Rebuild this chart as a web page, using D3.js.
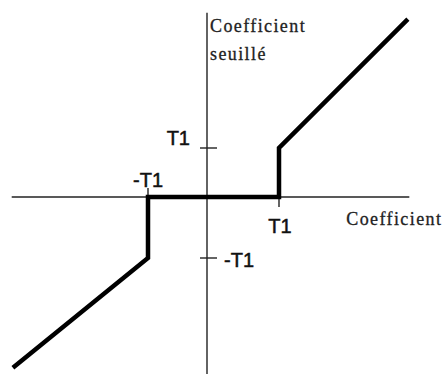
<!DOCTYPE html>
<html>
<head>
<meta charset="utf-8">
<script src="https://cdn.jsdelivr.net/npm/d3@7"></script>
<style>
  body { margin: 0; background: #fff; }
  svg { display: block; }
</style>
</head>
<body>
<script>
'use strict'

// curve of the thresholded coefficient, in units of T1
const curveX = [-3.29, -1, -1, 1, 1, 2.79]
const curveY = [-2.80, -1, 0, 0, 1, 3.63]
// axis extents (T1 units)
const axisXExtent = [-3.31, 2.81]
const axisYExtent = [-2.90, 3.76]
const tickValues = [-1, 1]
const xTickLabels = ['-T1', 'T1']
const yTickLabels = ['-T1', 'T1']
const xTitle = 'Coefficient'
const yTitle = ['Coefficient', 'seuillé']

const width = 446, height = 374

const x = d3.scaleLinear().domain([-1, 0, 1]).range([148, 207, 279])
const y = d3.scaleLinear().domain([-1, 0, 1]).range([258, 197, 148])

const svg = d3.select('body').append('svg')
  .attr('width', width)
  .attr('height', height)

svg.append('rect').attr('width', width).attr('height', height).attr('fill', '#fff')

const axes = svg.append('g')
  .attr('stroke', '#222')
  .attr('stroke-width', 1.4)

// horizontal axis
axes.append('line')
  .attr('x1', x(axisXExtent[0])).attr('x2', x(axisXExtent[1]))
  .attr('y1', y(0)).attr('y2', y(0))

// vertical axis
axes.append('line')
  .attr('x1', x(0)).attr('x2', x(0))
  .attr('y1', y(axisYExtent[1])).attr('y2', y(axisYExtent[0]))

// ticks on vertical axis
axes.selectAll('.ytick')
  .data(tickValues)
  .join('line')
    .attr('class', 'ytick')
    .attr('x1', x(0) - 7).attr('x2', x(0) + 10)
    .attr('y1', d => y(d)).attr('y2', d => y(d))

// ticks on horizontal axis
axes.selectAll('.xtick')
  .data(tickValues)
  .join('line')
    .attr('class', 'xtick')
    .attr('x1', d => x(d)).attr('x2', d => x(d))
    .attr('y1', y(0) - 9).attr('y2', y(0) + 10)

// thresholding curve
const pts = curveX.map((v, i) => ({ x: v, y: curveY[i] }))
const line = d3.line()
  .x(d => x(d.x))
  .y(d => y(d.y))

svg.append('path')
  .datum(pts)
  .attr('fill', 'none')
  .attr('stroke', '#000')
  .attr('stroke-width', 4.5)
  .attr('stroke-linejoin', 'miter')
  .attr('d', line)

// tick labels (sans)
const sans = 'Liberation Sans, Arial, sans-serif'
const lbl = svg.append('g')
  .attr('font-family', sans)
  .attr('font-size', 20)
  .attr('fill', '#111')
  .attr('stroke', '#111')
  .attr('stroke-width', 0.5)

// y labels
lbl.append('text')
  .attr('x', x(0) - 17).attr('y', y(1) - 3)
  .attr('text-anchor', 'end')
  .text(yTickLabels[1])
lbl.append('text')
  .attr('x', x(0) + 17).attr('y', y(-1) + 9)
  .attr('text-anchor', 'start')
  .text(yTickLabels[0])

// x labels
lbl.append('text')
  .attr('x', x(-1)).attr('y', y(0) - 10)
  .attr('text-anchor', 'middle')
  .text(xTickLabels[0])
lbl.append('text')
  .attr('x', x(1) + 1).attr('y', y(0) + 36)
  .attr('text-anchor', 'middle')
  .text(xTickLabels[1])

// axis titles (serif)
const serif = 'Liberation Serif, Times New Roman, serif'
const titles = svg.append('g')
  .attr('font-family', serif)
  .attr('font-size', 18)
  .attr('letter-spacing', 1.4)
  .attr('fill', '#222')
  .attr('stroke', '#222')
  .attr('stroke-width', 0.3)

titles.append('text')
  .attr('x', x(axisXExtent[1]) - 63).attr('y', y(0) + 28)
  .text(xTitle)

titles.selectAll('.ytitle')
  .data(yTitle)
  .join('text')
    .attr('class', 'ytitle')
    .attr('x', x(0) + 3)
    .attr('y', (d, i) => 32 + i * 28)
    .text(d => d)
</script>
</body>
</html>
